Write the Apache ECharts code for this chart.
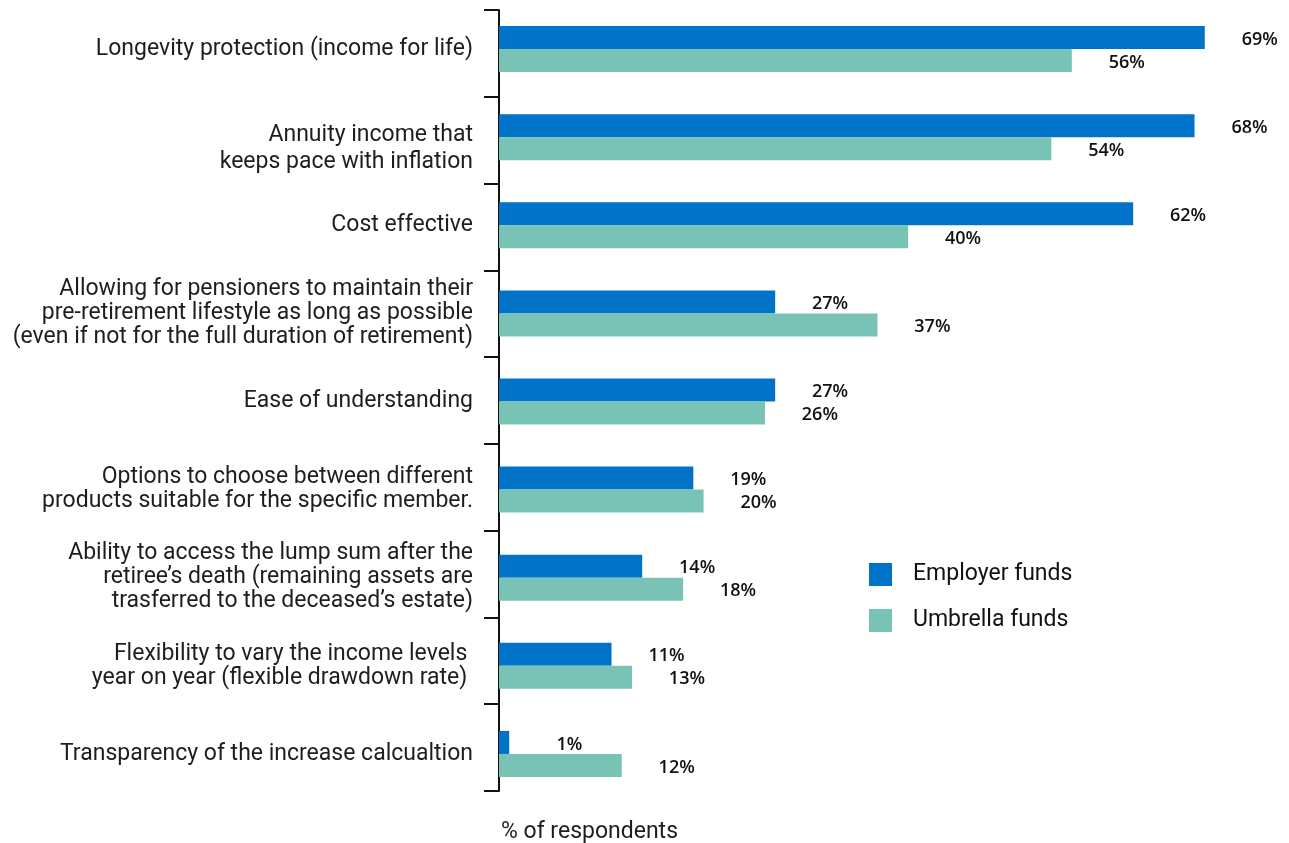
<!DOCTYPE html>
<html>
<head>
<meta charset="utf-8">
<title>Pension features by fund type</title>
<script src="https://cdn.jsdelivr.net/npm/echarts@6/dist/echarts.min.js"></script>
<style>
  html, body { margin: 0; padding: 0; background: #fff; }
  #chart { width: 1289px; height: 843px; }
</style>
</head>
<body>
<div id="chart"></div>
<script>
// Features of a retirement income product, top to bottom
const categories = [
  'Longevity protection (income for life)',
  'Annuity income that\nkeeps pace with inflation',
  'Cost effective',
  'Allowing for pensioners to maintain their\npre-retirement lifestyle as long as possible\n(even if not for the full duration of retirement)',
  'Ease of understanding',
  'Options to choose between different\nproducts suitable for the specific member.',
  'Ability to access the lump sum after the\nretiree\u2019s death (remaining assets are\ntrasferred to the deceased\u2019s estate)',
  'Flexibility to vary the income levels \nyear on year (flexible drawdown rate) ',
  'Transparency of the increase calcualtion'
];

// Share of respondents (%)
const employerFunds = [69, 68, 62, 27, 27, 19, 14, 11, 1];
const umbrellaFunds = [56, 54, 40, 37, 26, 20, 18, 13, 12];

const seriesNames = ['Employer funds', 'Umbrella funds'];
const seriesColors = ['#0073c8', '#78c3b6'];

const chart = echarts.init(document.getElementById('chart'), null, { renderer: 'canvas' });

const valueLabel = {
  show: true,
  position: 'right',
  distance: 73,
  align: 'right',
  offset: [0, 2],
  formatter: p => p.value + '%',
  fontFamily: '"Open Sans", sans-serif',
  fontWeight: 600,
  fontSize: 18,
  color: '#111'
};

// The two-line inflation label sits a little lower, with looser leading
function categoryLabel(value, index) {
  if (index === 1) {
    return '{gap| }\n' + value.split('\n').map(line => '{loose|' + line + '}').join('\n');
  }
  return value;
}

chart.setOption({
  animation: false,
  backgroundColor: '#ffffff',
  grid: [
    // bars and category labels
    { left: 499, top: 5, width: 716, height: 793, containLabel: false },
    // bracket-style axis line with ticks between the groups
    { left: 499, top: 10, width: 716, height: 781, containLabel: false }
  ],
  xAxis: [
    { gridIndex: 0, type: 'value', min: 0, max: 70, show: false },
    { gridIndex: 1, type: 'value', min: 0, max: 70, show: false }
  ],
  yAxis: [
    {
      gridIndex: 0,
      type: 'category',
      inverse: true,
      data: categories,
      axisLine: { show: false },
      axisTick: { show: false },
      axisLabel: {
        margin: 26,
        fontFamily: 'Roboto, sans-serif',
        fontSize: 23,
        lineHeight: 24,
        color: '#1e1e1e',
        align: 'right',
        formatter: categoryLabel,
        rich: {
          gap: { fontSize: 4, lineHeight: 23 },
          loose: {
            fontFamily: 'Roboto, sans-serif',
            fontSize: 23,
            lineHeight: 27,
            color: '#1e1e1e'
          }
        }
      },
      splitLine: { show: false }
    },
    {
      gridIndex: 1,
      type: 'category',
      inverse: true,
      data: categories.map(() => ''),
      axisLine: { show: true, lineStyle: { color: '#111', width: 2 } },
      axisTick: { show: true, length: 15, lineStyle: { color: '#111', width: 2 } },
      axisLabel: { show: false },
      splitLine: { show: false }
    }
  ],
  legend: {
    orient: 'vertical',
    left: 869,
    top: 563,
    padding: 0,
    icon: 'rect',
    itemWidth: 23,
    itemHeight: 23,
    itemGap: 23,
    textStyle: {
      fontFamily: 'Roboto, sans-serif',
      fontSize: 23,
      color: '#111',
      padding: [0, 0, 0, 16]
    },
    data: seriesNames
  },
  graphic: [{
    type: 'text',
    left: 501,
    top: 821,
    style: {
      text: '% of respondents',
      font: '23px Roboto, sans-serif',
      fill: '#1e1e1e'
    }
  }],
  series: [
    {
      name: seriesNames[0],
      type: 'bar',
      xAxisIndex: 0,
      yAxisIndex: 0,
      data: employerFunds,
      barWidth: 23,
      barGap: '0%',
      itemStyle: { color: seriesColors[0] },
      label: valueLabel
    },
    {
      name: seriesNames[1],
      type: 'bar',
      xAxisIndex: 0,
      yAxisIndex: 0,
      data: umbrellaFunds,
      barWidth: 23,
      barGap: '0%',
      itemStyle: { color: seriesColors[1] },
      label: valueLabel
    }
  ]
});
</script>
</body>
</html>
